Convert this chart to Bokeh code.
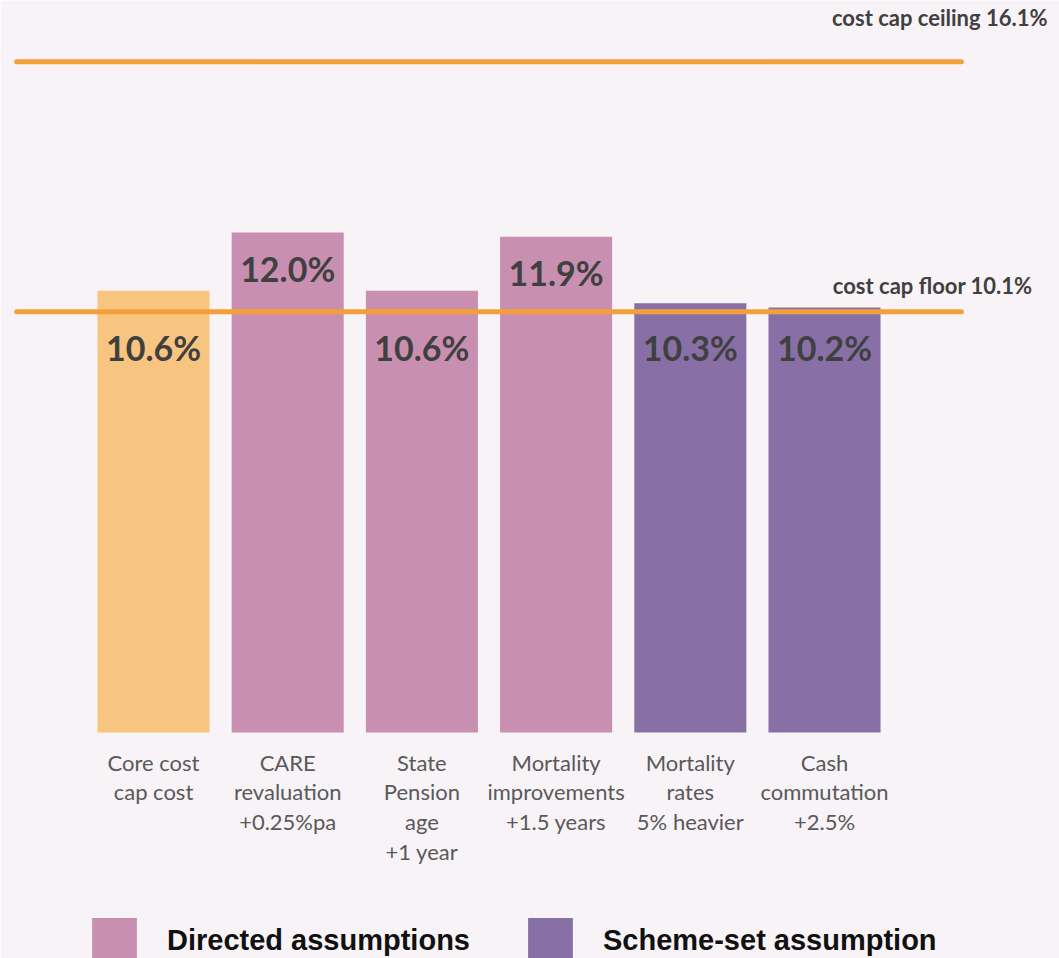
from bokeh.plotting import figure
from bokeh.models import (ColumnDataSource, Range1d, FixedTicker, Label,
                          Legend, LegendItem, CDSView, IndexFilter)
from bokeh.core.properties import value
from bokeh.embed import file_html
from bokeh.resources import INLINE

# ---------------- data ----------------
categories = [
    "Core cost\ncap cost",
    "CARE\nrevaluation\n+0.25%pa",
    "State\nPension\nage\n+1 year",
    "Mortality\nimprovements\n+1.5 years",
    "Mortality\nrates\n5% heavier",
    "Cash\ncommutation\n+2.5%",
]
values = [10.6, 12.0, 10.6, 11.9, 10.3, 10.2]
groups = ["core", "directed", "directed", "directed", "scheme", "scheme"]
cost_cap_floor = 10.1
cost_cap_ceiling = 16.1
legend_labels = {"directed": "Directed assumptions", "scheme": "Scheme-set assumption"}

# ---------------- style ----------------
BG = "#f7f3f7"
COLORS = {"core": "#f8c580", "directed": "#c98fb0", "scheme": "#8870a7"}
LINE = "#f4a03a"
FONT = "Lato"
LINE_OVERHANG = 1.02   # how far the reference lines reach past the outer bars (in bar slots)
CLEARANCE = 1.0        # bars closer than this to the floor get their label below the floor line

xs = list(range(len(categories)))
source = ColumnDataSource(dict(
    x=xs,
    value=values,
    label_y=[cost_cap_floor if v - cost_cap_floor < CLEARANCE else v for v in values],
    group=groups,
    color=[COLORS[g] for g in groups],
    label=[f"{v:.1f}%" for v in values],
))

p = figure(
    width=1059, height=958,
    x_range=Range1d(-1.140, 6.751),
    y_range=Range1d(-5.424, 17.568),
    output_backend="svg", toolbar_location=None,
    y_axis_location=None,
    min_border=0,
    background_fill_color=BG, border_fill_color=BG, outline_line_color=None,
)
p.xgrid.visible = False
p.ygrid.visible = False

renderers = {}
for g in ["core", "directed", "scheme"]:
    idx = [i for i, gg in enumerate(groups) if gg == g]
    renderers[g] = p.vbar(x="x", top="value", width=0.835, bottom=0, source=source,
                          view=CDSView(filter=IndexFilter(idx)),
                          fill_color=COLORS[g], line_color=None)

# reference lines (cost cap floor / ceiling)
lines = ColumnDataSource(dict(
    x0=[xs[0] - LINE_OVERHANG] * 2,
    x1=[xs[-1] + LINE_OVERHANG] * 2,
    y=[cost_cap_floor, cost_cap_ceiling],
))
p.segment(x0="x0", y0="y", x1="x1", y1="y", source=lines,
          line_color=LINE, line_width=5, line_cap="round")

p.add_layout(Label(x=1047, x_units="screen", y=cost_cap_ceiling, y_offset=44,
                   text=f"cost cap ceiling {cost_cap_ceiling}%", text_align="right",
                   text_baseline="middle", text_font=FONT, text_font_style="bold",
                   text_font_size="22px", text_color="#404040"))
p.add_layout(Label(x=1032, x_units="screen", y=cost_cap_floor, y_offset=26,
                   text=f"cost cap floor {cost_cap_floor}%", text_align="right",
                   text_baseline="middle", text_font=FONT, text_font_style="bold",
                   text_font_size="22px", text_color="#404040"))

# value labels
p.text(x="x", y="label_y", text="label", source=source, y_offset=36,
       text_font=value(FONT), text_font_style="bold", text_font_size="34px",
       text_color="#404040", text_align="center", text_baseline="middle")

# x axis drawn at y = 0 inside the frame
xa = p.xaxis[0]
xa.fixed_location = 0
xa.ticker = FixedTicker(ticks=xs)
xa.major_label_overrides = {i: c for i, c in zip(xs, categories)}
xa.axis_line_color = None
xa.major_tick_line_color = None
xa.minor_tick_line_color = None
xa.major_tick_out = 0
xa.major_tick_in = 0
xa.major_label_standoff = 16
xa.major_label_text_font = FONT
xa.major_label_text_font_size = "22px"
xa.major_label_text_color = "#595959"
xa.major_label_text_line_height = 1.1

legend = Legend(
    items=[LegendItem(label=legend_labels["directed"], renderers=[renderers["directed"]]),
           LegendItem(label=legend_labels["scheme"], renderers=[renderers["scheme"]])],
    orientation="horizontal", location=(86, -10),
    glyph_width=56, glyph_height=56, label_standoff=25, spacing=52,
    padding=0, margin=0, border_line_color=None, background_fill_alpha=0,
    label_text_font="Liberation Sans", label_text_font_style="bold",
    label_text_font_size="29px", label_text_color="#111111",
)
p.add_layout(legend)

open("out.html", "w").write(file_html(p, INLINE))
